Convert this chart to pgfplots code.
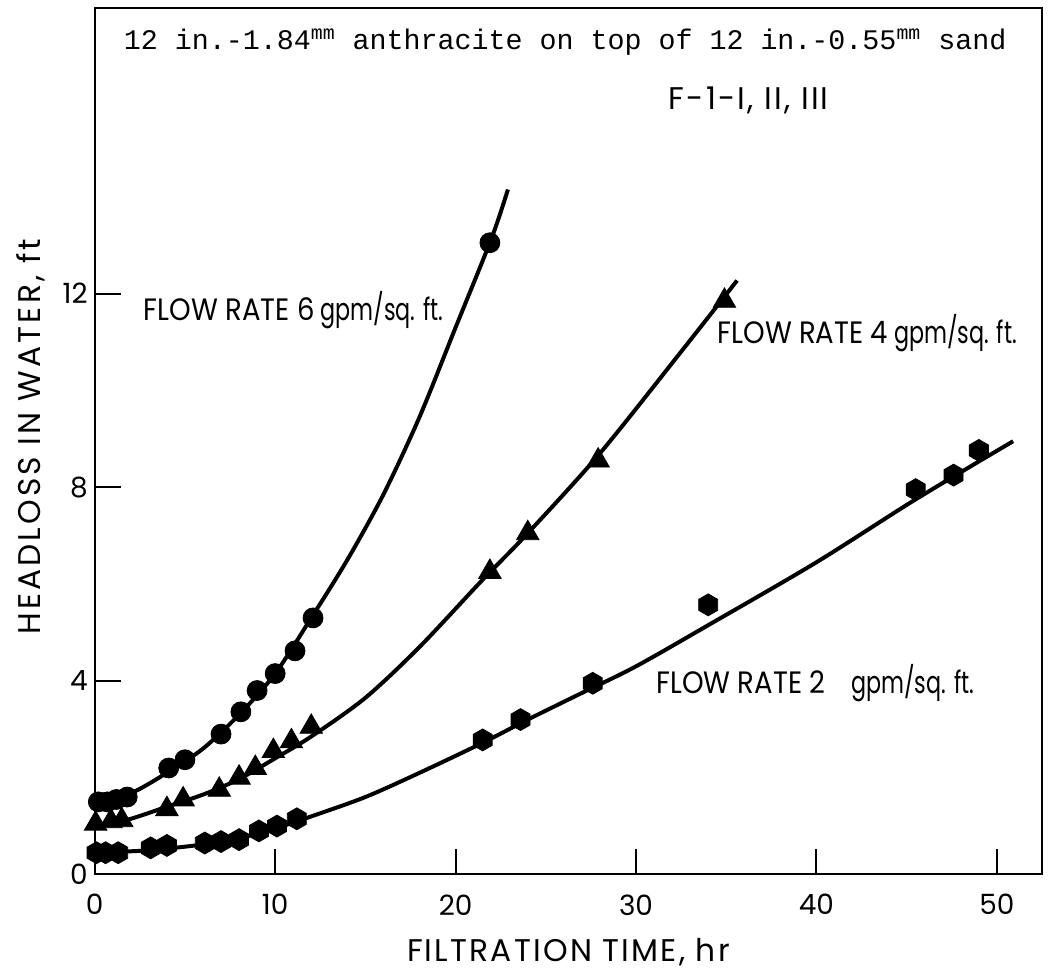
\documentclass[border=0pt]{standalone}
\usepackage{fontspec}
\setmainfont{Poppins}
\newfontfamily\tw{Liberation Mono}
\newfontfamily\axfont{Poppins}[LetterSpace=7]
\newfontfamily\ayfont{Poppins}[LetterSpace=10]
\newfontfamily\frcap{Poppins}[FakeStretch=0.89]
\newfontfamily\frlow{Poppins}[FakeStretch=0.72]
\usepackage{pgfplots}
\pgfplotsset{compat=1.18}

% filled hexagon, vertex pointing up
\pgfdeclareplotmark{hexagon*}{%
  \pgfpathmoveto{\pgfpointpolar{90}{\pgfplotmarksize}}%
  \pgfpathlineto{\pgfpointpolar{150}{\pgfplotmarksize}}%
  \pgfpathlineto{\pgfpointpolar{210}{\pgfplotmarksize}}%
  \pgfpathlineto{\pgfpointpolar{270}{\pgfplotmarksize}}%
  \pgfpathlineto{\pgfpointpolar{330}{\pgfplotmarksize}}%
  \pgfpathlineto{\pgfpointpolar{30}{\pgfplotmarksize}}%
  \pgfpathclose
  \pgfusepathqfillstroke
}

\newcommand{\axlbl}{\axfont\fontsize{15.7}{15.7}\selectfont}
\newcommand{\aylbl}{\ayfont\fontsize{15.7}{15.7}\selectfont}
% flow-rate labels: wide capitals, narrow unit text
\newcommand{\flow}[3]{{\frcap\fontsize{15.5}{15.5}\selectfont FLOW RATE #1}\hspace{#2}%
  {\frlow\fontsize{15.5}{15.5}\selectfont #3}}

\begin{document}
\begin{tikzpicture}
\path[use as bounding box] (-47.5pt,-50.5pt) rectangle (478pt,438.5pt);
\begin{axis}[
  at={(0,0)}, anchor=south west,
  width=475pt, height=434.5pt, scale only axis,
  xmin=0, xmax=52.5, ymin=0, ymax=17.9,
  xtick={0,10,20,30,40,50}, ytick={0,4,8,12},
  tick pos=left, tick align=inside, major tick length=13pt,
  axis line style={line width=1pt},
  every tick/.style={black, line width=1pt},
  /pgf/number format/assume math mode=true,
  tick label style={font=\fontsize{14}{14}\selectfont},
  xticklabel style={yshift=-6.5pt},
  xlabel={FILTRATION TIME, hr},
  ylabel={HEADLOSS IN WATER, ft},
  xlabel style={font=\axlbl, at={(axis description cs:0.5,-0.09)}, anchor=center},
  ylabel style={font=\aylbl, at={(axis description cs:-0.068,0.505)}, anchor=center},
  clip=false,
]
% frame
\draw[line width=1pt] (rel axis cs:0,0) rectangle (rel axis cs:1,1);
% fitted curves
\addplot[line width=2pt, smooth, tension=0.5] coordinates {
  (0,1.5) (2,1.68) (4,2.1) (6,2.6) (8,3.3) (10,4.15) (12,5.3) (14,6.5)
  (16,7.85) (18,9.45) (20,11.3) (22,13.15) (22.9,14.15)};
\addplot[line width=2pt, smooth, tension=0.5] coordinates {
  (0,0.97) (2,1.15) (4,1.4) (6,1.65) (8,1.97) (10,2.4) (12,2.85) (15,3.65)
  (18,4.7) (21.4,6.05) (24,7.05) (28,8.7) (32.5,10.8) (35.6,12.27)};
\addplot[line width=2pt, smooth, tension=0.5] coordinates {
  (0,0.45) (3,0.5) (6,0.62) (8,0.75) (10,0.95) (12,1.2) (15,1.6) (18,2.1)
  (21.5,2.72) (24,3.2) (27,3.75) (30,4.3) (34,5.15) (40,6.45) (45.5,7.75) (50.9,8.95)};
% measured headloss, 6 gpm/sq. ft.
\addplot[only marks, mark=*, mark size=5pt, black] coordinates {
  (0.2,1.5) (0.7,1.5) (1.2,1.55) (1.8,1.6) (4.1,2.2) (5.0,2.37) (7.0,2.9)
  (8.1,3.36) (9.0,3.8) (10.0,4.15) (11.1,4.62) (12.1,5.3) (21.9,13.05)};
% measured headloss, 4 gpm/sq. ft.
\addplot[only marks, mark=triangle*, mark size=6.5pt, black] coordinates {
  (0.05,1.05) (0.9,1.1) (1.5,1.12) (4.0,1.35) (4.9,1.55) (6.9,1.75) (8.0,2.0)
  (8.9,2.2) (9.9,2.55) (10.9,2.75) (12.0,3.05) (21.9,6.25) (24.0,7.05)
  (27.9,8.55) (34.9,11.85)};
% measured headloss, 2 gpm/sq. ft.
\addplot[only marks, mark=hexagon*, mark size=5.5pt, black] coordinates {
  (0.1,0.45) (0.6,0.45) (1.3,0.45) (3.1,0.55) (4.0,0.6) (6.1,0.65) (7.0,0.68)
  (8.0,0.72) (9.1,0.9) (10.1,1.0) (11.2,1.15) (21.5,2.78) (23.6,3.2)
  (27.6,3.95) (34.0,5.57) (45.5,7.95) (47.6,8.25) (49.0,8.76)};
% annotations
\node[anchor=west, inner sep=0pt, font=\tw\fontsize{14.2}{14.2}\selectfont] at (axis cs:1.6,17.2)
  {12 in.-1.84\textsuperscript{mm} anthracite on top of 12 in.-0.55\textsuperscript{mm} sand};
\node[anchor=west, inner sep=0pt, font=\axlbl] at (axis cs:31.8,16.0) {F-1-I, II, III};
\node[anchor=west, inner sep=0pt] at (axis cs:2.7,11.65) {\flow{6}{3pt}{gpm/sq. ft.}};
\node[anchor=west, inner sep=0pt] at (axis cs:34.5,11.18) {\flow{4}{3pt}{gpm/sq. ft.}};
\node[anchor=west, inner sep=0pt] at (axis cs:31.1,3.95) {\flow{2}{13pt}{gpm/sq. ft.}};
\end{axis}
\end{tikzpicture}
\end{document}
